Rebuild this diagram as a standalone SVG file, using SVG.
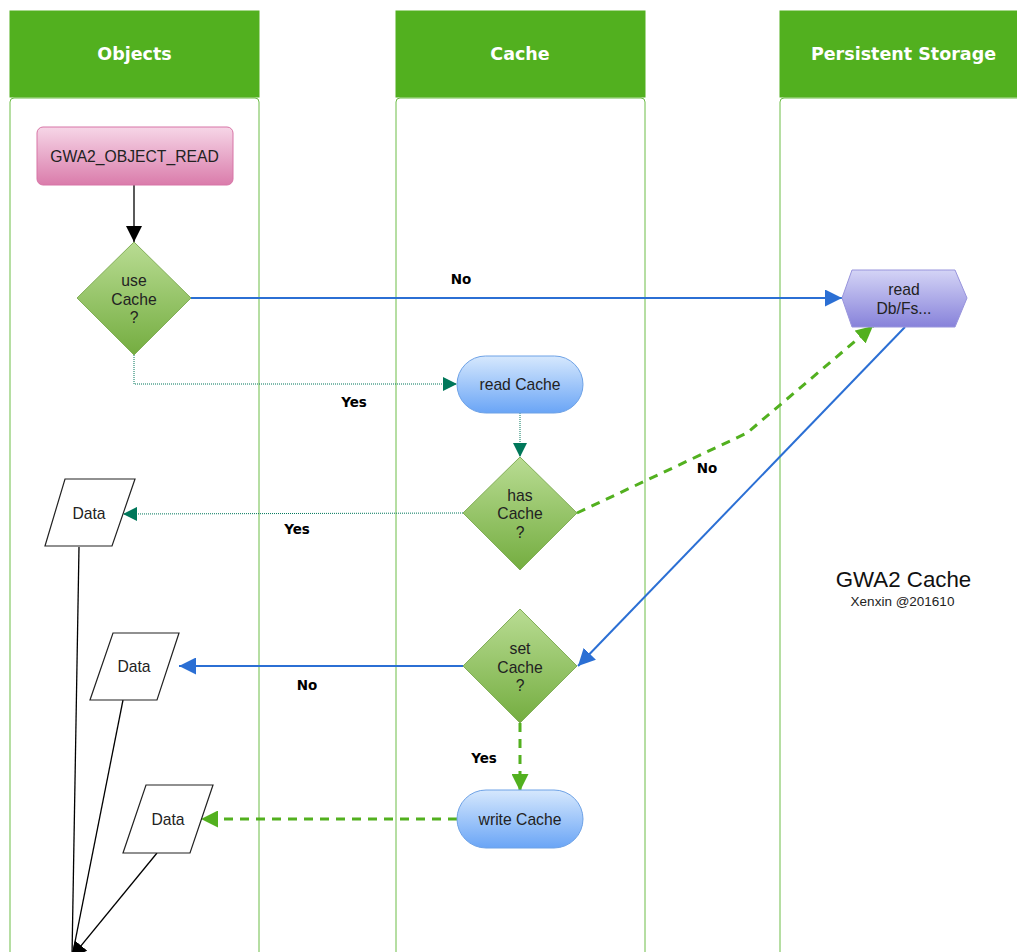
<svg xmlns="http://www.w3.org/2000/svg" width="1017" height="952" viewBox="0 0 1017 952">
  <defs>
    <linearGradient id="gPink" x1="0" y1="0" x2="0" y2="1">
      <stop offset="0" stop-color="#f6d6e7"/>
      <stop offset="1" stop-color="#da7cab"/>
    </linearGradient>
    <linearGradient id="gGreen" x1="0" y1="0" x2="0" y2="1">
      <stop offset="0" stop-color="#b9dc93"/>
      <stop offset="1" stop-color="#74ad40"/>
    </linearGradient>
    <linearGradient id="gBlue" x1="0" y1="0" x2="0" y2="1">
      <stop offset="0" stop-color="#d6e8fd"/>
      <stop offset="1" stop-color="#6aa5f6"/>
    </linearGradient>
    <linearGradient id="gPurple" x1="0" y1="0" x2="0" y2="1">
      <stop offset="0" stop-color="#d4d4f6"/>
      <stop offset="1" stop-color="#8782da"/>
    </linearGradient>
    <marker id="aBlack" viewBox="0 0 16 16" refX="16" refY="8" markerWidth="16" markerHeight="16" markerUnits="userSpaceOnUse" orient="auto">
      <path d="M0,0 L16,8 L0,16 z" fill="#000"/>
    </marker>
    <marker id="aBlue" viewBox="0 0 16 16" refX="16" refY="8" markerWidth="17" markerHeight="17" markerUnits="userSpaceOnUse" orient="auto">
      <path d="M0,0 L16,8 L0,16 z" fill="#2b6fd4"/>
    </marker>
    <marker id="aTeal" viewBox="0 0 16 16" refX="16" refY="8" markerWidth="15" markerHeight="14" markerUnits="userSpaceOnUse" orient="auto">
      <path d="M0,0 L16,8 L0,16 z" fill="#00775a"/>
    </marker>
    <marker id="aGreen" viewBox="0 0 16 16" refX="16" refY="8" markerWidth="17" markerHeight="17" markerUnits="userSpaceOnUse" orient="auto">
      <path d="M0,0 L16,8 L0,16 z" fill="#52b01f"/>
    </marker>
  </defs>
  <style>
    .hdr { fill: #52b01f; }
    .hdrText { font-family: "DejaVu Sans", sans-serif; font-weight: bold; font-size: 17.5px; fill: #fff; text-anchor: middle; }
    .lane { fill: #fff; stroke: #6cbd46; stroke-width: 1; }
    .txt { font-family: "Liberation Sans", Arial, sans-serif; font-size: 15.7px; fill: #222; text-anchor: middle; }
    .lbl { font-family: "DejaVu Sans", sans-serif; font-weight: bold; font-size: 13.5px; fill: #000; text-anchor: middle; }
    .diamond { fill: url(#gGreen); stroke: #82ae58; stroke-width: 1; }
    .pill { fill: url(#gBlue); stroke: #6ea2e6; stroke-width: 1; }
    .data { fill: #fff; stroke: #222; stroke-width: 1.2; }
    .black { fill: none; stroke: #000; stroke-width: 1.3; }
    .blue { fill: none; stroke: #2b6fd4; stroke-width: 2; }
    .teal { fill: none; stroke: #00775a; stroke-width: 1; stroke-dasharray: 1 1; }
    .gdash { fill: none; stroke: #52b01f; stroke-width: 3; stroke-dasharray: 9 7; }
  </style>

  <rect width="1017" height="952" fill="#fff"/>

  <!-- swimlanes -->
  <g id="lane-objects">
    <rect class="lane" x="10" y="98" width="249" height="880" rx="4"/>
    <rect class="hdr" x="9.5" y="10.5" width="250" height="87"/>
    <text class="hdrText" x="134.5" y="60">Objects</text>
  </g>
  <g id="lane-cache">
    <rect class="lane" x="396" y="98" width="249" height="880" rx="4"/>
    <rect class="hdr" x="395.5" y="10.5" width="250" height="87"/>
    <text class="hdrText" x="520" y="60">Cache</text>
  </g>
  <g id="lane-storage">
    <rect class="lane" x="780" y="98" width="260" height="880" rx="4"/>
    <rect class="hdr" x="779.5" y="10.5" width="260" height="87"/>
    <text class="hdrText" x="903.5" y="60">Persistent Storage</text>
  </g>

  <!-- connectors -->
  <g id="connectors">
    <path class="black" d="M134,185 V242" marker-end="url(#aBlack)"/>
    <path class="blue" d="M191,298 H842" marker-end="url(#aBlue)"/>
    <path class="teal" d="M134,355 V384 H457" marker-end="url(#aTeal)"/>
    <path class="teal" d="M520,413 V457" marker-end="url(#aTeal)"/>
    <path class="teal" d="M463,513 L123,514" marker-end="url(#aTeal)"/>
    <path class="gdash" d="M577,513 L747,433 L873,326" marker-end="url(#aGreen)"/>
    <path class="blue" d="M905,327 L578,666" marker-end="url(#aBlue)"/>
    <path class="blue" d="M463,666 H179" marker-end="url(#aBlue)"/>
    <path class="gdash" d="M520,723 V791" marker-end="url(#aGreen)"/>
    <path class="gdash" d="M457,819 H201" marker-end="url(#aGreen)"/>
    <path class="black" d="M79,547 L72,957"/>
    <path class="black" d="M123,700 L72,957"/>
    <path class="black" d="M157,853 L71,958" marker-end="url(#aBlack)"/>

    <text class="lbl" x="461" y="284">No</text>
    <text class="lbl" x="354" y="407">Yes</text>
    <text class="lbl" x="297" y="534">Yes</text>
    <text class="lbl" x="707" y="473">No</text>
    <text class="lbl" x="307" y="690">No</text>
    <text class="lbl" x="484" y="763">Yes</text>
  </g>

  <!-- nodes -->
  <g id="n-start">
    <rect x="37" y="127" width="196" height="58" rx="6" fill="url(#gPink)" stroke="#d775a6" stroke-width="1"/>
    <text class="txt" x="134.5" y="161.5">GWA2_OBJECT_READ</text>
  </g>

  <g id="n-useCache">
    <polygon class="diamond" points="134,242 191,298 134,355 77,298"/>
    <text class="txt" x="134" y="286">use</text>
    <text class="txt" x="134" y="305">Cache</text>
    <text class="txt" x="134" y="323">?</text>
  </g>

  <g id="n-readDb">
    <polygon points="842,298 852,270 955,270 967,298 955,327 852,327" fill="url(#gPurple)" stroke="#9894dc" stroke-width="1"/>
    <text class="txt" x="904" y="295">read</text>
    <text class="txt" x="904" y="314">Db/Fs...</text>
  </g>

  <g id="n-readCache">
    <rect class="pill" x="457" y="356" width="126" height="57" rx="28.5"/>
    <text class="txt" x="520" y="390">read Cache</text>
  </g>

  <g id="n-hasCache">
    <polygon class="diamond" points="520,457 577,513 520,570 463,513"/>
    <text class="txt" x="520" y="501">has</text>
    <text class="txt" x="520" y="519">Cache</text>
    <text class="txt" x="520" y="538">?</text>
  </g>

  <g id="n-setCache">
    <polygon class="diamond" points="520,609 577,666 520,723 463,666"/>
    <text class="txt" x="520" y="654">set</text>
    <text class="txt" x="520" y="673">Cache</text>
    <text class="txt" x="520" y="691">?</text>
  </g>

  <g id="n-writeCache">
    <rect class="pill" x="457" y="790" width="126" height="58" rx="29"/>
    <text class="txt" x="520" y="824.5">write Cache</text>
  </g>

  <g id="n-data1">
    <polygon class="data" points="65,479 135,479 112,546 45,546"/>
    <text class="txt" x="89" y="518.5">Data</text>
  </g>

  <g id="n-data2">
    <polygon class="data" points="113,633 179,633 157,700 90,700"/>
    <text class="txt" x="134" y="671.5">Data</text>
  </g>

  <g id="n-data3">
    <polygon class="data" points="146,785 213,785 190,853 123,853"/>
    <text class="txt" x="168" y="824.5">Data</text>
  </g>

  <g id="title">
    <text x="903.5" y="587" font-family="'Liberation Sans', Arial, sans-serif" font-size="22.3" fill="#111" text-anchor="middle">GWA2 Cache</text>
    <text x="902.5" y="606" font-family="'Liberation Sans', Arial, sans-serif" font-size="13.5" fill="#222" text-anchor="middle">Xenxin @201610</text>
  </g>
</svg>
